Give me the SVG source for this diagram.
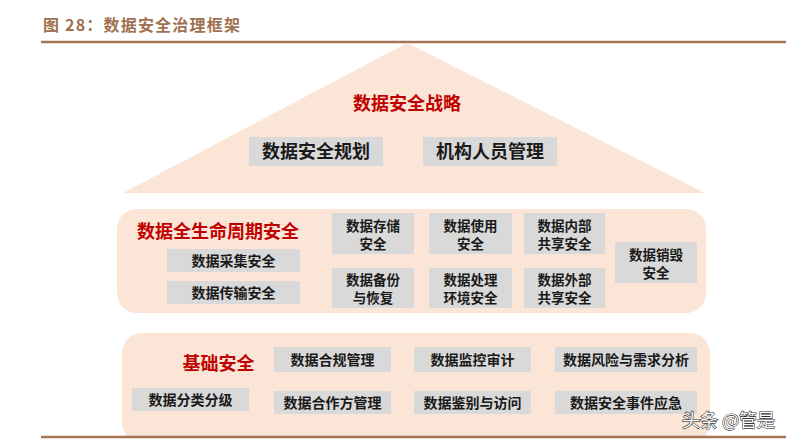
<svg xmlns="http://www.w3.org/2000/svg" width="801" height="443" viewBox="0 0 801 443">
<style>
.bg{fill:#fbe5d6}
.box{fill:#d9d9d9}
.t{font-family:"Noto Sans CJK SC","Noto Sans",sans-serif;font-weight:bold;fill:#1a1a1a;font-size:14px;text-anchor:middle}
.s{font-size:13.5px}
.big{font-size:18px}
.h{font-family:"Noto Sans CJK SC","Noto Sans",sans-serif;font-weight:bold;fill:#c00000;text-anchor:middle}
.rule{stroke:#a57558;stroke-width:2.5}
</style>
<rect width="801" height="443" fill="#ffffff"/>
<text x="43" y="31" font-family="Noto Sans CJK SC,sans-serif" font-weight="bold" font-size="16" letter-spacing="1.2" fill="#a0714f">图 28：数据安全治理框架</text>
<line class="rule" x1="41" y1="42" x2="786" y2="42"/>

<g id="strategy">
<polygon class="bg" points="407,43 705,193 123,193"/>
<text class="h" x="407" y="110" font-size="18">数据安全战略</text>
</g>
<g id="n-plan"><rect class="box" x="249" y="137" width="134" height="29"/><text class="t big" x="316" y="158">数据安全规划</text></g>
<g id="n-org"><rect class="box" x="423" y="137" width="134" height="29"/><text class="t big" x="490" y="158">机构人员管理</text></g>

<g id="lifecycle">
<rect class="bg" x="117" y="209" width="589" height="104" rx="20"/>
<text class="h" x="218" y="238" font-size="18">数据全生命周期安全</text>
</g>
<g id="n-collect"><rect class="box" x="167" y="249" width="133" height="23"/><text class="t" x="233.5" y="266">数据采集安全</text></g>
<g id="n-trans"><rect class="box" x="167" y="281" width="133" height="23"/><text class="t" x="233.5" y="298">数据传输安全</text></g>
<g id="n-store"><rect class="box" x="332" y="213" width="82" height="41"/><text class="t s" x="373" y="231">数据存储<tspan x="373" dy="18">安全</tspan></text></g>
<g id="n-backup"><rect class="box" x="332" y="268" width="82" height="40"/><text class="t s" x="373" y="285">数据备份<tspan x="373" dy="18">与恢复</tspan></text></g>
<g id="n-use"><rect class="box" x="429" y="213" width="83" height="41"/><text class="t s" x="470.5" y="231">数据使用<tspan x="470.5" dy="18">安全</tspan></text></g>
<g id="n-proc"><rect class="box" x="429" y="268" width="83" height="40"/><text class="t s" x="470.5" y="285">数据处理<tspan x="470.5" dy="18">环境安全</tspan></text></g>
<g id="n-inner"><rect class="box" x="524" y="213" width="81" height="41"/><text class="t s" x="564.5" y="231">数据内部<tspan x="564.5" dy="18">共享安全</tspan></text></g>
<g id="n-outer"><rect class="box" x="524" y="268" width="81" height="40"/><text class="t s" x="564.5" y="285">数据外部<tspan x="564.5" dy="18">共享安全</tspan></text></g>
<g id="n-destroy"><rect class="box" x="615" y="242" width="82" height="41"/><text class="t s" x="656" y="260">数据销毁<tspan x="656" dy="18">安全</tspan></text></g>

<g id="base">
<rect class="bg" x="122" y="333" width="588" height="110" rx="20"/>
<text class="h" x="218.5" y="370" font-size="18">基础安全</text>
</g>
<g id="n-classify"><rect class="box" x="132" y="388" width="117" height="23"/><text class="t" x="190.5" y="405">数据分类分级</text></g>
<g id="n-comply"><rect class="box" x="274" y="347" width="117" height="25"/><text class="t" x="332.5" y="365">数据合规管理</text></g>
<g id="n-partner"><rect class="box" x="274" y="391" width="117" height="23"/><text class="t" x="332.5" y="408">数据合作方管理</text></g>
<g id="n-monitor"><rect class="box" x="414" y="347" width="117" height="25"/><text class="t" x="472.5" y="365">数据监控审计</text></g>
<g id="n-auth"><rect class="box" x="414" y="391" width="117" height="23"/><text class="t" x="472.5" y="408">数据鉴别与访问</text></g>
<g id="n-risk"><rect class="box" x="555" y="347" width="142" height="25"/><text class="t" x="626" y="365">数据风险与需求分析</text></g>
<g id="n-incident"><rect class="box" x="555" y="391" width="142" height="23"/><text class="t" x="626" y="408">数据安全事件应急</text></g>
<rect x="0" y="438.3" width="801" height="5" fill="#ffffff"/>
<line class="rule" x1="41" y1="437" x2="786" y2="437"/>

<text x="682" y="427" font-family="Noto Sans CJK SC,sans-serif" font-size="18" fill="#ffffff" stroke="#333333" stroke-width="1.2" paint-order="stroke">头条 @管是</text>
</svg>
